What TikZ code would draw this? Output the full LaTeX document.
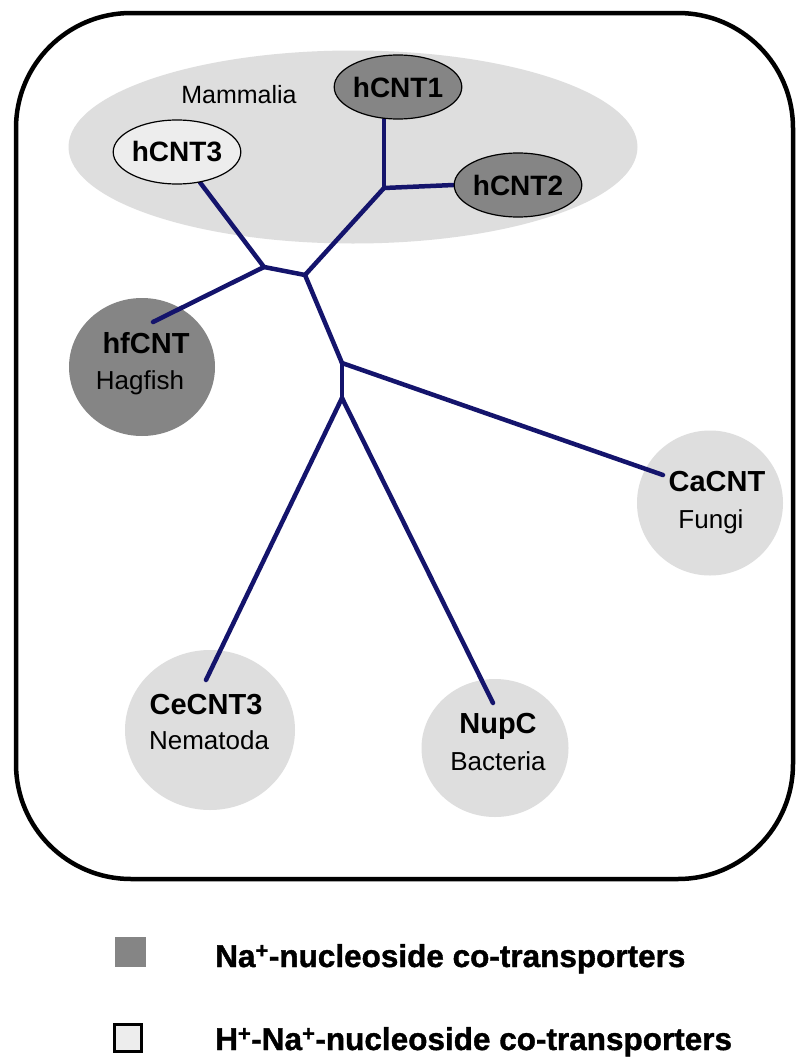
\documentclass[tikz,border=0pt]{standalone}
\usepackage{fontspec}
\setmainfont{Liberation Sans}
\newfontfamily\legfont[FakeBold=1.2]{Liberation Sans Bold}
\usetikzlibrary{shapes.geometric}
\definecolor{treeblue}{HTML}{14146C}
\definecolor{darkfill}{HTML}{858585}
\definecolor{palefill}{HTML}{DEDEDE}
\definecolor{whitefill}{HTML}{EDEDED}
\pgfdeclarelayer{fg}
\pgfsetlayers{main,fg}
\begin{document}
\begin{tikzpicture}[x=1pt,y=-1pt,
  frame/.style={draw=black,line width=4.5pt,rounded corners=115pt},
  group/.style={ellipse,fill=palefill,inner sep=0pt},
  oval/.style={ellipse,draw=black,line width=1.2pt,inner sep=0pt,minimum width=122pt,minimum height=64pt,font=\fontsize{28}{30}\selectfont\bfseries},
  blob/.style={ellipse,inner sep=0pt},
  title/.style={anchor=base,inner sep=0pt,font=\fontsize{29}{30}\selectfont\bfseries},
  subtitle/.style={anchor=base,inner sep=0pt,font=\fontsize{26}{28}\selectfont},
  branch/.style={draw=treeblue,line width=4.5pt,line cap=round,line join=round},
  legtext/.style={anchor=base west,inner sep=0pt,font=\fontsize{31.5}{33}\legfont},
]
\useasboundingbox (0,0) rectangle (796,1060);
\fill[white] (0,0) rectangle (796,1060);

% outer frame
\draw[frame] (16,13) rectangle (793,879);

% Mammalia group
\node[group,minimum width=569pt,minimum height=193pt] (mam) at (353,147) {};
\node[subtitle,font=\fontsize{25}{27}\selectfont] (mamlbl) at (239,103) {Mammalia};

% ovals (drawn on top of branches)
\begin{pgfonlayer}{fg}
\node[oval,fill=darkfill] (h1) at (398,87) {hCNT1};
\node[oval,fill=darkfill] (h2) at (518,185) {hCNT2};
\node[oval,fill=whitefill,minimum width=123pt] (h3) at (177,152) {hCNT3};
\end{pgfonlayer}

% circles
\node[blob,fill=darkfill,minimum width=146pt,minimum height=138pt] (hf) at (142,367) {};
\node[blob,fill=palefill,minimum width=146pt,minimum height=145pt] (ca) at (710,503) {};
\node[blob,fill=palefill,minimum width=170pt,minimum height=160pt] (ce) at (210,730) {};
\node[blob,fill=palefill,minimum width=147pt,minimum height=138pt] (nup) at (495,748) {};

% tree vertices and branch ends
\coordinate (A) at (384,188);
\coordinate (B) at (305,275);
\coordinate (C) at (264,267);
\coordinate (D) at (342,363);
\coordinate (E) at (342,398);
\coordinate (hfend) at (153,322);
\coordinate (caend) at (663,475);
\coordinate (ceend) at (206,680);
\coordinate (nupend) at (493,703);

% branches
\draw[branch] (A) -- (A |- h1.south);
\draw[branch] (A) -- (h2.west);
\draw[branch] (A) -- (B);
\draw[branch] (B) -- (C);
\draw[branch] (C) -- (h3);
\draw[branch] (C) -- (hfend);
\draw[branch] (B) -- (D);
\draw[branch] (D) -- (caend);
\draw[branch] (D) -- (E);
\draw[branch] (E) -- (ceend);
\draw[branch] (E) -- (nupend);

% circle labels
\node[title] (hft) at (146,353) {hfCNT};
\node[subtitle] (hfs) at (140,389) {Hagfish};
\node[title] (cat) at (717,491) {CaCNT};
\node[subtitle] (cas) at (711,528) {Fungi};
\node[title] (cet) at (206,714) {CeCNT3};
\node[subtitle] (ces) at (209,749) {Nematoda};
\node[title] (nupt) at (498,733) {NupC};
\node[subtitle] (nups) at (498,770) {Bacteria};

% legend
\fill[darkfill] (115,937) rectangle (146,967);
\draw[fill=whitefill,line width=3pt] (114.5,1024.5) rectangle (141.5,1051.5);
\node[legtext] (leg1) at (215,967) {Na\textsuperscript{+}-nucleoside co-transporters};
\node[legtext] (leg2) at (215,1050) {H\textsuperscript{+}-Na\textsuperscript{+}-nucleoside co-transporters};
\end{tikzpicture}
\end{document}
